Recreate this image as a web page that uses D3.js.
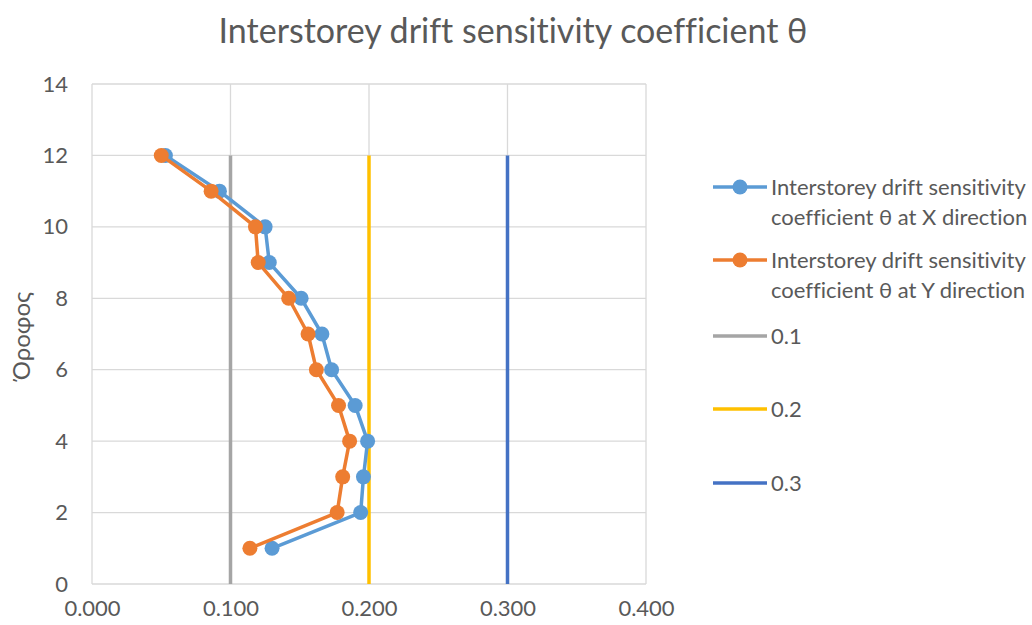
<!DOCTYPE html>
<html>
<head>
<meta charset="utf-8">
<script src="https://cdn.jsdelivr.net/npm/d3@7"></script>
<style>
  body { margin: 0; background: #fff; }
  text { font-family: Lato, "Liberation Sans", sans-serif; fill: #595959; font-variant-ligatures: none; }
</style>
</head>
<body>
<div id="chart"></div>
<script>
// floors (y) and theta values (x)
var floors = [12, 11, 10, 9, 8, 7, 6, 5, 4, 3, 2, 1];
var thetaX = [0.053, 0.092, 0.125, 0.128, 0.151, 0.166, 0.173, 0.190, 0.199, 0.196, 0.194, 0.130];
var thetaY = [0.050, 0.086, 0.118, 0.120, 0.142, 0.156, 0.162, 0.178, 0.186, 0.181, 0.177, 0.114];

// limit lines
var limits = [0.1, 0.2, 0.3];
var limitSpan = [0, 12];

var xTicks = [0, 0.1, 0.2, 0.3, 0.4];
var yTicks = [0, 2, 4, 6, 8, 10, 12, 14];

var W = 1032, H = 625;
var margin = {top: 84, right: 386, bottom: 41, left: 92},
    width = W - margin.left - margin.right,
    height = H - margin.top - margin.bottom;

var svg = d3.select("#chart")
    .append("svg")
    .attr("width", W)
    .attr("height", H);

var g = svg.append("g")
    .attr("transform", "translate(" + margin.left + "," + margin.top + ")");

var x = d3.scaleLinear().domain([0, 0.4]).range([0, width]);
var y = d3.scaleLinear().domain([0, 14]).range([height, 0]);

// gridlines
g.selectAll(".vgrid")
    .data(xTicks)
    .enter()
    .append("line")
    .attr("x1", function(d) { return x(d); })
    .attr("x2", function(d) { return x(d); })
    .attr("y1", 0)
    .attr("y2", height)
    .attr("stroke", "#d9d9d9")
    .attr("stroke-width", 1.3);

g.selectAll(".hgrid")
    .data(yTicks)
    .enter()
    .append("line")
    .attr("x1", 0)
    .attr("x2", width)
    .attr("y1", function(d) { return y(d); })
    .attr("y2", function(d) { return y(d); })
    .attr("stroke", "#d9d9d9")
    .attr("stroke-width", 1.3);

// axes labels
var xAxis = g.append("g")
    .attr("transform", "translate(0," + height + ")")
    .call(d3.axisBottom(x).tickValues(xTicks).tickFormat(d3.format(".3f")).tickSize(0).tickPadding(16));
xAxis.select(".domain").remove();
xAxis.selectAll("text").style("font-size", "22px").attr("fill", "#595959");

var yAxis = g.append("g")
    .call(d3.axisLeft(y).tickValues(yTicks).tickSize(0).tickPadding(24));
yAxis.select(".domain").remove();
yAxis.selectAll("text").style("font-size", "22px").attr("fill", "#595959");

// limit lines
var limitColors = ["#a5a5a5", "#ffc000", "#4472c4"];
g.selectAll(".limit")
    .data(limits)
    .enter()
    .append("line")
    .attr("x1", function(d) { return x(d); })
    .attr("x2", function(d) { return x(d); })
    .attr("y1", y(limitSpan[0]))
    .attr("y2", y(limitSpan[1]))
    .attr("stroke", function(d, i) { return limitColors[i]; })
    .attr("stroke-width", 3.5);

// series
var series = [
  {vals: thetaX, color: "#5b9bd5"},
  {vals: thetaY, color: "#ed7d31"}
];
var line = d3.line()
    .x(function(d) { return x(d[0]); })
    .y(function(d) { return y(d[1]); });

series.forEach(function(s) {
  var pts = s.vals.map(function(v, i) { return [v, floors[i]]; });
  g.append("path")
    .datum(pts)
    .attr("d", line)
    .attr("fill", "none")
    .attr("stroke", s.color)
    .attr("stroke-width", 3.5)
    .attr("stroke-linejoin", "round");
  g.selectAll(null)
    .data(pts)
    .enter()
    .append("circle")
    .attr("cx", function(d) { return x(d[0]); })
    .attr("cy", function(d) { return y(d[1]); })
    .attr("r", 7.5)
    .attr("fill", s.color);
});

// title
svg.append("text")
    .attr("x", 513)
    .attr("y", 43)
    .attr("text-anchor", "middle")
    .style("font-size", "34px")
    .text("Interstorey drift sensitivity coefficient θ");

// y title
svg.append("text")
    .attr("transform", "translate(30,336) rotate(-90)")
    .attr("text-anchor", "middle")
    .style("font-size", "24px")
    .text("Όροφος");

// legend
var legend = [
  {lines: ["Interstorey drift sensitivity", "coefficient θ at X direction"], color: "#5b9bd5", marker: true, y: 187},
  {lines: ["Interstorey drift sensitivity", "coefficient θ at Y direction"], color: "#ed7d31", marker: true, y: 260},
  {lines: ["0.1"], color: "#a5a5a5", marker: false, y: 336},
  {lines: ["0.2"], color: "#ffc000", marker: false, y: 409},
  {lines: ["0.3"], color: "#4472c4", marker: false, y: 483}
];
var lg = svg.append("g");
legend.forEach(function(l) {
  lg.append("line")
    .attr("x1", 713).attr("x2", 767)
    .attr("y1", l.y).attr("y2", l.y)
    .attr("stroke", l.color)
    .attr("stroke-width", 3.5);
  if (l.marker) {
    lg.append("circle").attr("cx", 740).attr("cy", l.y).attr("r", 7.5).attr("fill", l.color);
  }
  l.lines.forEach(function(t, i) {
    lg.append("text")
      .attr("x", 771)
      .attr("y", l.y + i * 30)
      .attr("dy", "0.35em")
      .style("font-size", "22px")
      .text(t);
  });
});
</script>
</body>
</html>
